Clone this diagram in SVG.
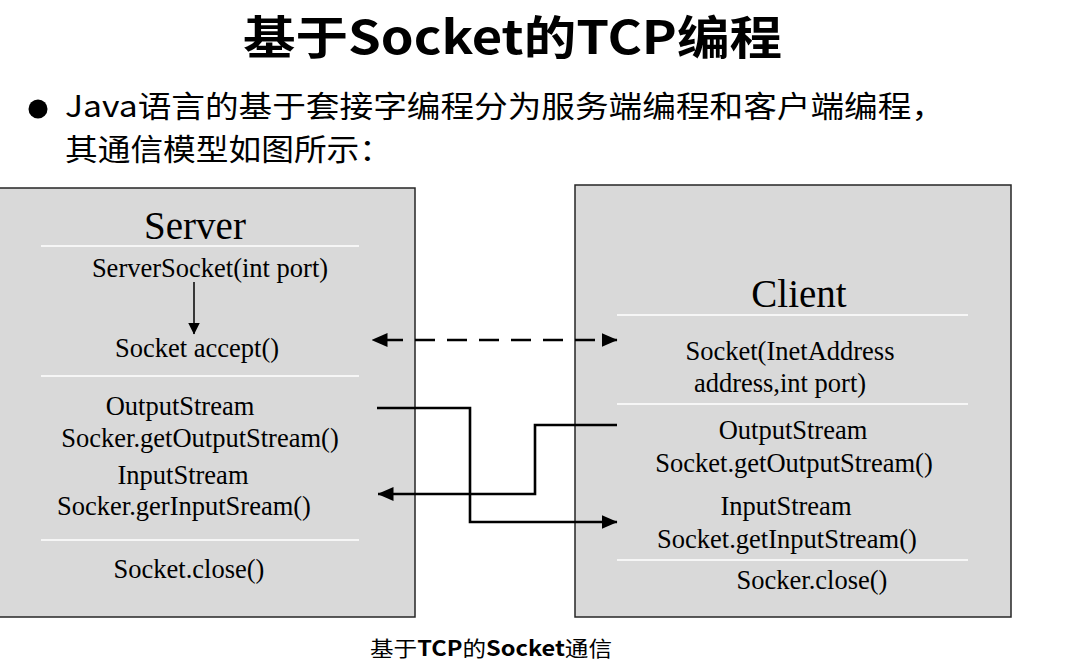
<svg xmlns="http://www.w3.org/2000/svg" width="1090" height="665" viewBox="0 0 1090 665">
<defs>
<style>
.box{fill:#d9d9d9;stroke:#262626;stroke-width:1.5}
.sep{stroke:#ffffff;stroke-width:1.5}
.t{font-family:"Liberation Serif","Times New Roman",serif;font-size:26.5px;fill:#000;text-anchor:middle}
.h{font-family:"Liberation Serif","Times New Roman",serif;font-size:39px;fill:#000;text-anchor:middle}
.cjk{font-family:"Noto Sans CJK SC","Noto Sans",sans-serif;fill:#000}
.ln{fill:none;stroke:#000;stroke-width:2.6}
</style>
<marker id="ah" markerUnits="userSpaceOnUse" markerWidth="16" markerHeight="14" refX="15.5" refY="7" orient="auto-start-reverse">
<path d="M0,0 L16,7 L0,14 Z" fill="#000"/>
</marker>
<marker id="ahs" markerUnits="userSpaceOnUse" markerWidth="12" markerHeight="12" refX="11.5" refY="6" orient="auto">
<path d="M0,0 L12,6 L0,12 Z" fill="#000"/>
</marker>
</defs>
<rect width="1090" height="665" fill="#ffffff"/>
<g id="title">
<text class="cjk" x="243" y="54" font-size="46" font-weight="bold" textLength="539" lengthAdjust="spacingAndGlyphs">基于Socket的TCP编程</text>
</g>
<g id="bullet">
<circle cx="38" cy="109" r="9.5" fill="#000"/>
<text class="cjk" x="65" y="117" font-size="30" textLength="880" lengthAdjust="spacingAndGlyphs">Java语言的基于套接字编程分为服务端编程和客户端编程，</text>
<text class="cjk" x="65" y="160" font-size="30" textLength="327" lengthAdjust="spacingAndGlyphs">其通信模型如图所示：</text>
</g>
<g id="server">
<rect class="box" x="-2" y="188" width="417" height="429"/>
<line class="sep" x1="41" y1="246" x2="359" y2="246"/>
<line class="sep" x1="41" y1="376" x2="359" y2="376"/>
<line class="sep" x1="41" y1="540" x2="359" y2="540"/>
<text class="h" x="195" y="239">Server</text>
<text class="t" x="210" y="277">ServerSocket(int port)</text>
<line x1="194" y1="282" x2="194" y2="334" stroke="#000" stroke-width="1.5" marker-end="url(#ahs)"/>
<text class="t" x="197" y="357">Socket accept()</text>
<text class="t" x="180" y="415">OutputStream</text>
<text class="t" x="200" y="447">Socker.getOutputStream()</text>
<text class="t" x="183" y="484">InputStream</text>
<text class="t" x="184" y="515">Socker.gerInputSream()</text>
<text class="t" x="189" y="578">Socket.close()</text>
</g>
<g id="client">
<rect class="box" x="575" y="185" width="436" height="432"/>
<line class="sep" x1="617" y1="315" x2="968" y2="315"/>
<line class="sep" x1="617" y1="404" x2="968" y2="404"/>
<line class="sep" x1="617" y1="560" x2="968" y2="560"/>
<text class="h" x="799" y="307">Client</text>
<text class="t" x="790" y="360">Socket(InetAddress</text>
<text class="t" x="780" y="392">address,int port)</text>
<text class="t" x="793" y="439">OutputStream</text>
<text class="t" x="794" y="472">Socket.getOutputStream()</text>
<text class="t" x="786" y="515">InputStream</text>
<text class="t" x="787" y="548">Socket.getInputStream()</text>
<text class="t" x="812" y="589">Socker.close()</text>
</g>
<g id="connectors">
<path class="ln" d="M372,340 L617,340" stroke-dasharray="20 12" stroke-dashoffset="21" marker-start="url(#ah)" marker-end="url(#ah)"/>
<path class="ln" d="M377,408 L470,408 L470,522 L617,522" marker-end="url(#ah)"/>
<path class="ln" d="M617,425 L535,425 L535,494 L378,494" marker-end="url(#ah)"/>
</g>
<g id="caption">
<text class="cjk" x="370" y="656" font-size="21" textLength="242" lengthAdjust="spacingAndGlyphs">基于<tspan font-weight="bold">TCP</tspan>的<tspan font-weight="bold">Socket</tspan>通信</text>
</g>
</svg>
